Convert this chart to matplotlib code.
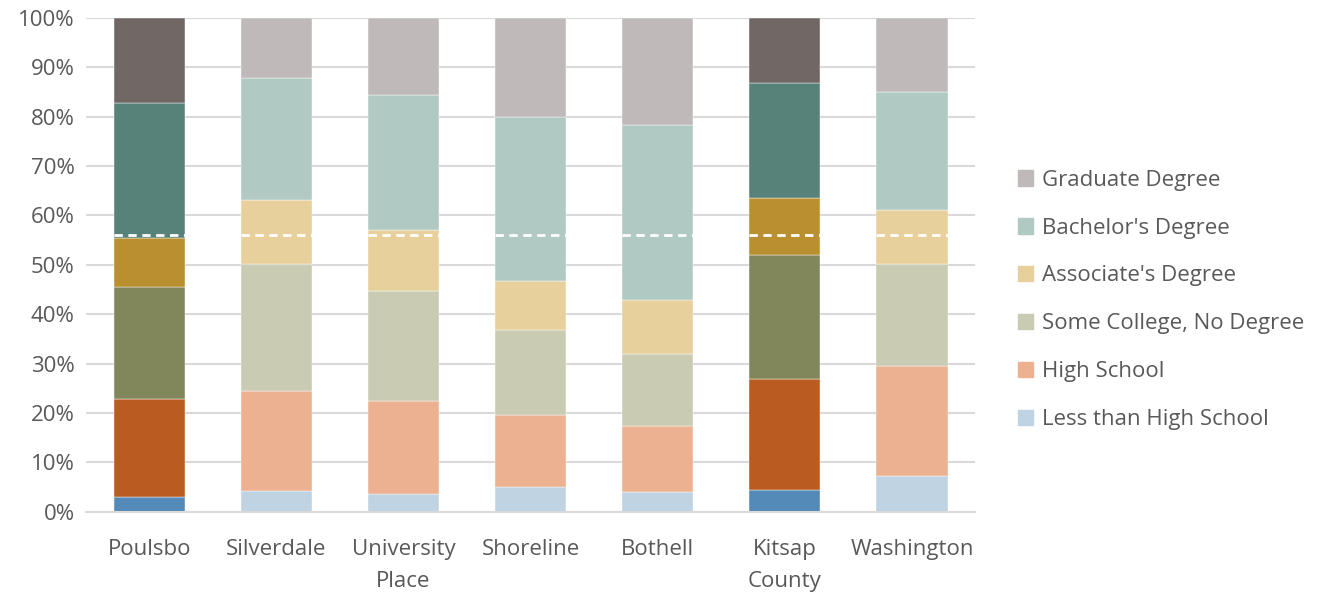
import matplotlib.pyplot as plt
from matplotlib.patches import Patch
import numpy as np

plt.rcParams['font.family'] = ['Open Sans', 'DejaVu Sans']

places = ['Poulsbo', 'Silverdale', 'University\nPlace', 'Shoreline', 'Bothell', 'Kitsap\nCounty', 'Washington']
levels = ['Less than High School', 'High School', 'Some College, No Degree',
          "Associate's Degree", "Bachelor's Degree", 'Graduate Degree']

# shares in percent, bottom to top
less_hs = [3.0, 4.1, 3.6, 5.0, 4.0, 4.3, 7.3]
high_school = [19.9, 20.4, 18.9, 14.5, 13.3, 22.5, 22.2]
some_college = [22.5, 25.7, 22.2, 17.3, 14.6, 25.2, 20.7]
associate = [10.1, 13.0, 12.4, 10.0, 11.0, 11.6, 10.9]
bachelor = [27.3, 24.6, 27.2, 33.2, 35.4, 23.2, 23.9]
graduate = [17.2, 12.2, 15.7, 20.0, 21.7, 13.2, 15.0]
marker_level = 56.0
highlight = ['Poulsbo', 'Kitsap\nCounty']

light = ['#BFD3E3', '#EBB191', '#C9CCB3', '#E8D09C', '#B0CAC3', '#C0B9B9']
dark = ['#548AB8', '#BA5B22', '#81865B', '#B98F2F', '#568279', '#716866']

series = [less_hs, high_school, some_college, associate, bachelor, graduate]
x = np.arange(len(places))
width = 0.56

fig, ax = plt.subplots(figsize=(13.2, 5.95), dpi=100)
fig.subplots_adjust(left=0.065, right=0.739, top=0.97, bottom=0.14)

bottom = np.zeros(len(places))
for vals, lc, dc in zip(series, light, dark):
    vals = np.array(vals)
    colors = [dc if p in highlight else lc for p in places]
    ax.bar(x, vals, width, bottom=bottom, color=colors, edgecolor='white', linewidth=0.3, zorder=2)
    bottom += vals

for xi in x:
    ax.plot([xi - width / 2, xi + width / 2], [marker_level, marker_level], color='white',
            linestyle=(0, (3, 2)), linewidth=2, zorder=3)

ax.set_xlim(-0.5, len(places) - 0.5)
ax.set_ylim(0, 100)
ax.set_yticks(np.arange(0, 101, 10))
ax.set_yticklabels([f'{v}%' for v in range(0, 101, 10)])
ax.set_xticks(x)
ax.set_xticklabels(places, linespacing=1.65)
ax.yaxis.grid(True, color='#D9D9D9', linewidth=1.5, zorder=0)
ax.set_axisbelow(True)
for s in ['top', 'right', 'left']:
    ax.spines[s].set_visible(False)
ax.spines['bottom'].set_color('#D9D9D9')
ax.spines['bottom'].set_linewidth(1.5)
ax.tick_params(axis='both', length=0, labelsize=16, labelcolor='#595959')
ax.tick_params(axis='x', pad=20)
ax.tick_params(axis='y', pad=8)

handles = [Patch(color=c, label=l) for c, l in zip(light, levels)][::-1]
fig.legend(handles=handles, loc='center left', bbox_to_anchor=(0.756, 0.496), frameon=False,
           fontsize=16, labelcolor='#595959', handlelength=0.7, handleheight=0.7,
           handletextpad=0.4, labelspacing=1.21)

fig.savefig('out.png', dpi=100)
